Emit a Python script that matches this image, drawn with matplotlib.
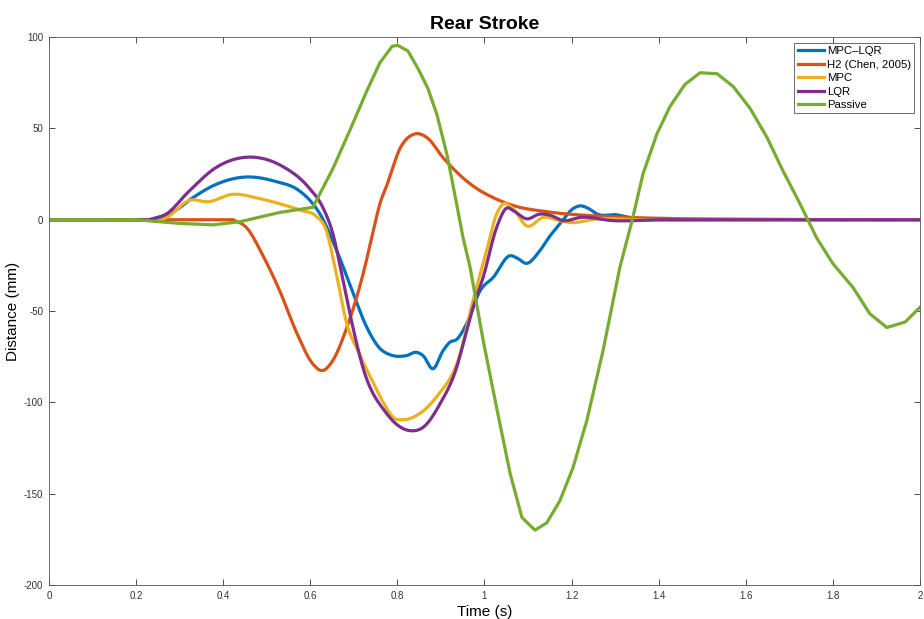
import numpy as np
import matplotlib
matplotlib.use("Agg")
import matplotlib.pyplot as plt

plt.rcParams['font.family'] = ['Liberation Sans Narrow', 'Liberation Sans', 'DejaVu Sans']
plt.rcParams['axes.unicode_minus'] = False

# Passive (green)
t_pas = [0, 0.2, 0.30, 0.377, 0.44, 0.53, 0.606, 0.652, 0.691, 0.730, 0.760, 0.788, 0.801,
         0.824, 0.847, 0.870, 0.891, 0.914, 0.932, 0.951, 0.967, 0.997, 1.028, 1.059, 1.086,
         1.116, 1.143, 1.173, 1.203, 1.235, 1.272, 1.311, 1.339, 1.364, 1.396, 1.426, 1.460,
         1.495, 1.534, 1.571, 1.610, 1.649, 1.685, 1.724, 1.763, 1.800, 1.846, 1.885, 1.924,
         1.966, 2.0]
v_pas = [0, 0, -2, -2.8, -1, 4, 6.8, 28, 49, 70.6, 86, 95, 95.5,
         92.5, 83, 72, 57.5, 35.6, 13.7, -10, -26, -66, -103, -139, -163,
         -170, -166, -154, -136, -110, -72, -26, -0.5, 25, 47, 62, 74,
         80.5, 80, 73, 61, 45, 27, 9, -10, -24, -37, -51.5, -59,
         -56, -48]

# H2 (Chen, 2005) (orange)
t_h2 = [0, 0.423, 0.454, 0.49, 0.53, 0.569, 0.606, 0.627, 0.652, 0.684, 0.721, 0.741, 0.760,
        0.776, 0.806, 0.840, 0.868, 0.905, 0.960, 1.036, 1.07, 1.14, 1.26, 1.4, 1.6, 2.0]
v_h2 = [0, 0, -4.4, -19, -39, -62, -79, -82.6, -77, -59, -30, -10, 8.8,
        19, 39, 47, 45, 34, 21, 10.4, 7.5, 4.5, 2.0, 0.8, 0.3, 0]

# MPC-LQR (blue)
t_ml = [0, 0.23, 0.29, 0.33, 0.383, 0.452, 0.52, 0.574, 0.604, 0.622, 0.661, 0.699, 0.73,
        0.76, 0.783, 0.821, 0.844, 0.859, 0.882, 0.905, 0.921, 0.936, 0.959, 0.99, 1.02,
        1.059, 1.075, 1.097, 1.127, 1.15, 1.173, 1.203, 1.219, 1.24, 1.258, 1.303, 1.35, 1.4, 2.0]
v_ml = [0, 0, 5, 12, 19.3, 23.4, 21, 16, 9.3, 3.3, -17, -40.6, -59,
        -70.5, -73.9, -74.4, -72.6, -74.4, -81.6, -71.7, -67, -65.6, -57, -38.9, -31.6,
        -19.7, -21, -23.9, -17, -9, -2.4, 6, 7.6, 6, 3.2, 2.7, 0.4, 0, 0]

# MPC (yellow)
t_mpc = [0, 0.23, 0.268, 0.322, 0.367, 0.42, 0.482, 0.535, 0.581, 0.612, 0.637, 0.66, 0.684,
         0.71, 0.744, 0.77, 0.792, 0.813, 0.852, 0.89, 0.944, 0.974, 1.005, 1.028, 1.043, 1.066,
         1.097, 1.135, 1.173, 1.196, 1.258, 1.35, 2.0]
v_mpc = [0, 0, 1, 10.6, 9.9, 13.9, 11.7, 8.4, 5, 2.2, -6, -29.8, -57,
         -72, -89, -101, -108.5, -109.5, -106, -97, -73.6, -44, -17, 3.2, 8.6, 5.8,
         -3.4, 1.3, -0.5, -1.5, 0.4, 0, 0]

# LQR (purple)
t_lqr = [0, 0.23, 0.268, 0.322, 0.383, 0.459, 0.535, 0.597, 0.629, 0.652, 0.675, 0.698, 0.721,
         0.775, 0.829, 0.859, 0.898, 0.936, 0.959, 0.974, 0.997, 1.028, 1.051, 1.066, 1.097,
         1.127, 1.15, 1.181, 1.22, 1.295, 1.4, 2.0]
v_lqr = [0, 0, 2.9, 15.7, 28.5, 34.3, 29.4, 17.5, 6.7, -7.7, -33, -59, -81,
         -106, -115.5, -113.7, -100.8, -81, -60.8, -48, -31.6, -4.2, 6.4, 5, 0.5,
         3.1, 2.5, -0.5, 1.3, -0.5, 0, 0]

series = [("MPC\u2013LQR", t_ml, v_ml, "#0072BD"),
          ("H2 (Chen, 2005)", t_h2, v_h2, "#D95319"),
          ("MPC", t_mpc, v_mpc, "#EDB120"),
          ("LQR", t_lqr, v_lqr, "#7E2F8E"),
          ("Passive", t_pas, v_pas, "#77AC30")]


def smooth(t, v, n=400):
    # cubic hermite through the read points
    t = np.asarray(t, float)
    v = np.asarray(v, float)
    out_t, out_v = [], []
    m = np.gradient(v, t)
    for i in range(len(t) - 1):
        h = t[i + 1] - t[i]
        s = np.linspace(0, 1, max(int(h * n), 2), endpoint=False)
        h00 = 2 * s**3 - 3 * s**2 + 1
        h10 = s**3 - 2 * s**2 + s
        h01 = -2 * s**3 + 3 * s**2
        h11 = s**3 - s**2
        m0, m1 = m[i], m[i + 1]
        if v[i] == v[i + 1]:
            m0 = m1 = 0
        out_t.append(t[i] + s * h)
        out_v.append(h00 * v[i] + h10 * h * m0 + h01 * v[i + 1] + h11 * h * m1)
    out_t.append([t[-1]])
    out_v.append([v[-1]])
    return np.concatenate(out_t), np.concatenate(out_v)


fig = plt.figure(figsize=(9.24, 6.19), dpi=100)
ax = fig.add_axes([0.053, 0.055, 0.9426, 0.885])

for name, t, v, c in series:
    if name == "Passive":
        ax.plot(t, v, color=c, lw=2.3, label=name)
    else:
        tt, vv = smooth(t, v)
        ax.plot(tt, vv, color=c, lw=2.3, label=name)

ax.set_xlim(0, 2)
ax.set_ylim(-200, 100)
ax.set_xticks(np.arange(0, 2.01, 0.2))
ax.set_xticklabels(["0", "0.2", "0.4", "0.6", "0.8", "1", "1.2", "1.4", "1.6", "1.8", "2"])
ax.set_yticks([-200, -150, -100, -50, 0, 50, 100])
ax.tick_params(direction="in", top=True, right=True, labelsize=7, length=4,
               width=0.6, colors="#333333", pad=4)
for sp in ax.spines.values():
    sp.set_color("#555555")
    sp.set_linewidth(0.6)

ax.set_xlabel("Time (s)", fontsize=11, labelpad=3)
ax.set_ylabel("Distance (mm)", fontsize=11)
ax.yaxis.set_label_coords(-0.033, 0.5)
ax.set_title("Rear Stroke", fontsize=14, fontweight="bold", pad=6)

leg = ax.legend(loc="upper right", fontsize=8.2, fancybox=False, framealpha=1,
                edgecolor="#555555", handlelength=2.3, handletextpad=0.25,
                borderaxespad=0.5, labelspacing=0.3, borderpad=0.3)
leg.get_frame().set_linewidth(0.6)

fig.savefig("out.png", dpi=100)
